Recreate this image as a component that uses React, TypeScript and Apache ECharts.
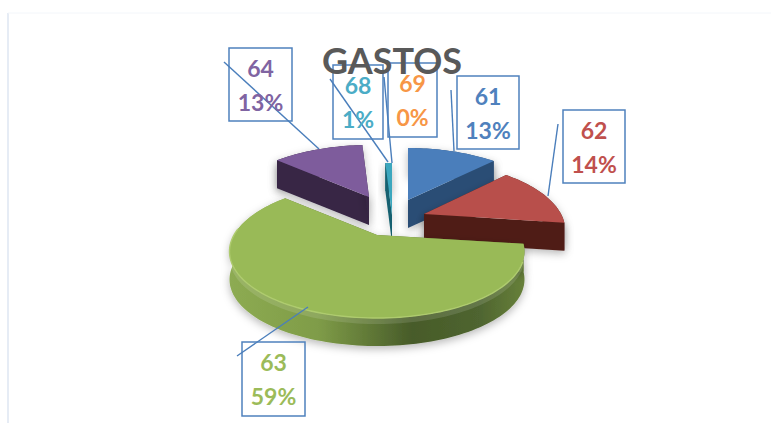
import React, { useEffect, useRef } from "react";
import * as echarts from "echarts";

const titleText = "GASTOS";
const categories = ["61", "62", "63", "64", "68", "69"];
const shares = [13, 14, 59, 13, 1, 0];
const labelColors = ["#4f81bd", "#c0504d", "#9bbb59", "#8064a2", "#4bacc6", "#f79646"];
const topColors = ["#4a7ebb", "#b84f4b", "#99ba57", "#7e5c9c", "#3ca7be", "#f79646"];
const sideColors = ["#2c4e75", "#4f1f19", "#5d7535", "#372644", "#17616f", "#a85f22"];

// Apex of each exploded slice, its horizontal radius, in pixels
const apexX = [408, 424, 377, 369, 392, 392];
const apexY = [200, 214, 235, 197, 215, 215];
const radiusX = [143, 137, 143, 143, 143, 143];
const radiusY = 67.5;
const depth = 28;
const perspX = 0.26;
const perspY = 0.23;
const drawOrder = [3, 4, 5, 0, 1, 2];

// Label boxes [x, y, w, h] and leader lines [x1, y1, x2, y2]
const boxes = [
  [457, 76, 62, 73],
  [563, 110, 62, 73],
  [242, 342, 63, 74],
  [229, 48, 63, 73],
  [333, 65, 50, 74],
  [388, 63, 49, 74],
];
const leaders = [
  [451, 90, 454, 151],
  [558, 124, 548, 196],
  [237, 356, 308, 307],
  [224, 62, 319, 149],
  [330, 79, 388, 162],
  [384, 77, 392, 163],
];

const total = shares.reduce((a, b) => a + b, 0);
const startAngles: number[] = [];
shares.reduce((acc, v, i) => {
  startAngles[i] = acc;
  return acc + (v / total) * Math.PI * 2;
}, 0);

function rimPoint(i: number, t: number): number[] {
  const c = Math.cos(t);
  const s = Math.sin(t);
  return [
    apexX[i] + radiusX[i] * s * (1 - perspX * c),
    apexY[i] - radiusY * c * (1 - perspY * c),
  ];
}

function arcPoints(i: number, a0: number, a1: number) {
  const n = Math.max(2, Math.ceil((a1 - a0) / 0.03));
  const pts: number[][] = [];
  for (let k = 0; k <= n; k++) pts.push(rimPoint(i, a0 + ((a1 - a0) * k) / n));
  return pts;
}

const poly = (points: number[][], style: any) => ({
  type: "polygon",
  shape: { points },
  style,
  silent: true,
});

function renderSlice(_params: any, api: any) {
  const i = api.value(1) as number;
  const value = api.value(0) as number;
  if (!value) return { type: "group", children: [] };
  const a0 = startAngles[i];
  const a1 = a0 + (value / total) * Math.PI * 2;
  const apex = [apexX[i], apexY[i]];
  const arc = arcPoints(i, a0, a1);
  const isGreen = i === 2;
  const sideFill: any = isGreen
    ? new echarts.graphic.LinearGradient(0, 0, 1, 0, [
        { offset: 0, color: "#8dab52" },
        { offset: 0.3, color: "#7f9c48" },
        { offset: 0.62, color: "#475b29" },
        { offset: 0.85, color: "#4f6530" },
        { offset: 1, color: "#67803a" },
      ])
    : sideColors[i];
  const extrude = (pts: number[][], h = depth) => [
    ...pts,
    ...pts.slice().reverse().map((p) => [p[0], p[1] + h]),
  ];
  const shadow = {
    shadowBlur: 9,
    shadowColor: "rgba(0,0,0,0.28)",
    shadowOffsetY: 3,
  };
  const children: any[] = [
    poly(extrude(arc), { fill: sideFill, ...shadow }),
    poly(extrude([apex, arc[0]]), { fill: sideColors[i], ...shadow }),
    poly(extrude([apex, arc[arc.length - 1]]), { fill: sideColors[i], ...shadow }),
  ];
  if (isGreen) {
    children.push(poly(extrude(arc, 6), { fill: "rgba(255,255,255,0.12)" }));
  }
  children.push(poly([apex, ...arc], { fill: topColors[i] }));
  if (isGreen) {
    children.push({
      type: "polyline",
      shape: { points: arcPoints(i, a0 + 0.25, a1 - 0.6) },
      style: { fill: "none", stroke: "#aecb6e", lineWidth: 1.4 },
      silent: true,
    });
  }
  return { type: "group", children };
}

export default function App() {
  const ref = useRef<HTMLDivElement>(null);
  useEffect(() => {
    const chart = echarts.init(ref.current!, null, { renderer: "svg" });
    const frame = [
      { type: "line", shape: { x1: 8, y1: 13, x2: 8, y2: 423 }, style: { stroke: "#e6ecf5", lineWidth: 2 } },
      { type: "line", shape: { x1: 8, y1: 13, x2: 771, y2: 13 }, style: { stroke: "#f3f6fa", lineWidth: 1 } },
    ];
    const boxEls = categories.map((_, i) => ({
      type: "rect",
      shape: { x: boxes[i][0], y: boxes[i][1], width: boxes[i][2], height: boxes[i][3] },
      style: { fill: "none", stroke: "#4f81bd", lineWidth: 1.5 },
      z: 5,
    }));
    const lineEls = categories.map((_, i) => ({
      type: "line",
      shape: { x1: leaders[i][0], y1: leaders[i][1], x2: leaders[i][2], y2: leaders[i][3] },
      style: { stroke: "#4a7ebb", lineWidth: 1.4 },
      z: 6,
    }));
    const textEls = categories.map((c, i) => ({
      type: "text",
      x: boxes[i][0] + boxes[i][2] / 2,
      y: boxes[i][1] + boxes[i][3] / 2,
      style: {
        text: c + "\n" + shares[i] + "%",
        fill: labelColors[i],
        font: "bold 23px Lato",
        lineHeight: 34,
        align: "center",
        verticalAlign: "middle",
      },
      z: 7,
    }));
    chart.setOption({
      animation: false,
      backgroundColor: "#ffffff",
      title: {
        text: titleText,
        left: 387,
        top: 37,
        textAlign: "center",
        textStyle: { fontFamily: "Lato", fontWeight: "bold", fontSize: 36, color: "#595959" },
        z: 8,
      },
      graphic: { elements: [...frame, ...boxEls, ...lineEls, ...textEls] },
      series: [
        {
          type: "custom",
          coordinateSystem: "none",
          renderItem: renderSlice,
          data: drawOrder.map((i) => ({ name: categories[i], value: [shares[i], i] })),
          silent: true,
        },
      ],
    });
    return () => chart.dispose();
  }, []);
  return <div ref={ref} style={{ position: "fixed", left: 0, top: 0, width: 771, height: 423 }} />;
}
